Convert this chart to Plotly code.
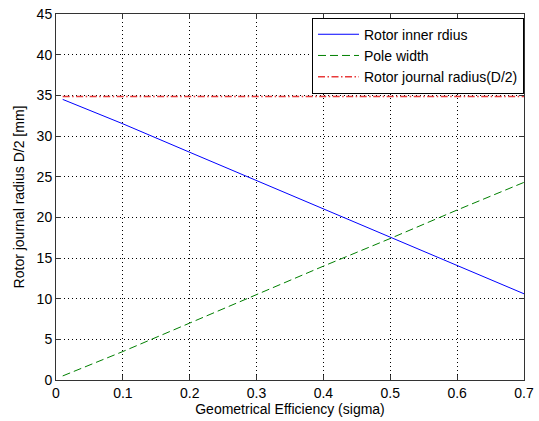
import plotly.graph_objects as go

sigma = [0.01, 0.1, 0.2, 0.3, 0.4, 0.5, 0.6, 0.7]
rotor_inner = [34.5, 31.5, 28.0, 24.5, 21.0, 17.5, 14.0, 10.6]
pole_width = [0.5, 3.5, 7.0, 10.5, 14.0, 17.4, 20.9, 24.3]
journal_radius = [34.85] * len(sigma)

FONT = "Liberation Sans, Arial, sans-serif"

fig = go.Figure()
fig.add_trace(go.Scatter(x=sigma, y=rotor_inner, mode="lines", name="Rotor inner rdius",
                         line=dict(color="#0000ff", width=1)))
fig.add_trace(go.Scatter(x=sigma, y=pole_width, mode="lines", name="Pole width",
                         line=dict(color="#008000", width=1, dash="8px,4px")))
fig.add_trace(go.Scatter(x=sigma, y=journal_radius, mode="lines", name="Rotor journal radius(D/2)",
                         line=dict(color="#e83a3a", width=1.5, dash="7px,2.5px,1.5px,2.5px")))

axis_common = dict(
    showline=True, linecolor="#333333", linewidth=1, mirror="ticks",
    ticks="inside", ticklen=5, tickcolor="#333333",
    showgrid=True, gridcolor="#000000", gridwidth=1, griddash="1px,3px",
    zeroline=False, automargin=False,
    tickfont=dict(family=FONT, size=14, color="#000000"),
)

fig.update_xaxes(range=[0, 0.7], dtick=0.1, tick0=0,
                 title=dict(text="Geometrical Efficiency (sigma)", font=dict(family=FONT, size=14, color="#000000"), standoff=4),
                 **axis_common)
fig.update_yaxes(range=[0, 45], dtick=5, tick0=0,
                 title=dict(text="Rotor journal radius D/2 [mm]", font=dict(family=FONT, size=14, color="#000000"), standoff=8),
                 **axis_common)

fig.update_layout(
    width=539, height=421,
    margin=dict(l=56, r=15, t=14, b=41),
    paper_bgcolor="#ffffff", plot_bgcolor="#ffffff",
    font=dict(family=FONT, size=14, color="#000000"),
    legend=dict(x=1, y=0.99, xanchor="right", yanchor="top",
                bgcolor="#ffffff", bordercolor="#000000", borderwidth=1,
                font=dict(family=FONT, size=14, color="#000000"),
                itemwidth=41, tracegroupgap=0),
    showlegend=True,
)

# remove the browser's default 8px body margin so the figure sits at the page origin
fig.write_html("out.html", config={"displayModeBar": False},
               post_script="document.body.style.margin='0';")
